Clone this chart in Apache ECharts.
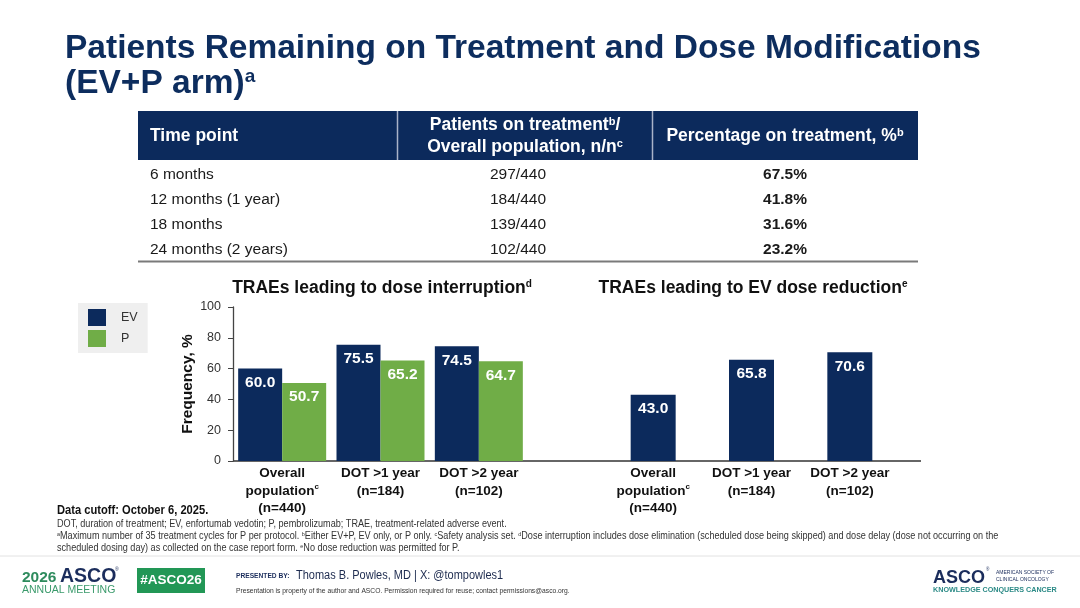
<!DOCTYPE html>
<html>
<head>
<meta charset="utf-8">
<title>Patients Remaining on Treatment and Dose Modifications</title>
<script src="https://cdn.jsdelivr.net/npm/echarts@6/dist/echarts.min.js"></script>
<style>
  html, body { margin: 0; padding: 0; background: #fff; }
  #main { width: 1080px; height: 608px; }
</style>
</head>
<body>
<div id="main"></div>
<script>
// table: patients remaining on treatment
var timePoints = ['6 months', '12 months (1 year)', '18 months', '24 months (2 years)'];
var onTreatment = [297, 184, 139, 102];
var overallPop = [440, 440, 440, 440];
var pctOnTreatment = [67.5, 41.8, 31.6, 23.2];

// bar charts
var doseCats = ['Overall\npopulation', 'DOT >1 year', 'DOT >2 year'];
var catSup = ['c', '', ''];
var catN = ['(n=440)', '(n=184)', '(n=102)'];
var interruptEV = [60.0, 75.5, 74.5];
var interruptP = [50.7, 65.2, 64.7];
var reductionEV = [43.0, 65.8, 70.6];
var yMin = 0, yMax = 100, yStep = 20;

var NAVY = '#0c2a5c';
var GREEN = '#70ad47';
var FONT = '"Liberation Sans", Arial, Helvetica, sans-serif';

var chart = echarts.init(document.getElementById('main'));

// small helper for graphic texts, {s|x} = superscript
function txt(x, y, str, size, opt) {
  opt = opt || {};
  var color = opt.color || '#222';
  var weight = opt.bold ? 'bold' : 'normal';
  return {
    type: 'text',
    x: x,
    y: y,
    scaleX: opt.scaleX || 1,
    silent: true,
    style: {
      text: str,
      fontFamily: FONT,
      fontSize: size,
      fontWeight: weight,
      fill: color,
      align: opt.align || 'left',
      verticalAlign: 'middle',
      rich: {
        s: {
          fontFamily: FONT,
          fontSize: opt.supSize || Math.round(size * 0.6),
          fontWeight: weight,
          fill: color,
          verticalAlign: 'top'
        }
      }
    }
  };
}

function hline(x1, x2, y, color, w) {
  return { type: 'line', silent: true, shape: { x1: x1, y1: y, x2: x2, y2: y }, style: { stroke: color, lineWidth: w } };
}

var g = [];

// title
g.push(txt(65, 49, 'Patients Remaining on Treatment and Dose Modifications', 33.5, { bold: true, color: '#0d2d5e' }));
g.push(txt(65, 84, '(EV+P arm){s|a}', 33.5, { bold: true, color: '#0d2d5e', supSize: 19 }));

// table header
g.push({ type: 'rect', silent: true, shape: { x: 138, y: 111, width: 780, height: 49 }, style: { fill: NAVY } });
g.push({ type: 'line', silent: true, shape: { x1: 397.5, y1: 111, x2: 397.5, y2: 160 }, style: { stroke: '#a9b3c8', lineWidth: 1.5 } });
g.push({ type: 'line', silent: true, shape: { x1: 652.5, y1: 111, x2: 652.5, y2: 160 }, style: { stroke: '#a9b3c8', lineWidth: 1.5 } });
g.push(txt(150, 136, 'Time point', 17.5, { bold: true, color: '#fff' }));
g.push(txt(525, 125, 'Patients on treatment{s|b}/', 17.5, { bold: true, color: '#fff', align: 'center', supSize: 11 }));
g.push(txt(525, 147, 'Overall population, n/n{s|c}', 17.5, { bold: true, color: '#fff', align: 'center', supSize: 11 }));
g.push(txt(785, 136, 'Percentage on treatment, %{s|b}', 17.5, { bold: true, color: '#fff', align: 'center', supSize: 11 }));

// table rows
for (var i = 0; i < timePoints.length; i++) {
  var ry = 174.5 + 25 * i;
  g.push(txt(150, ry, timePoints[i], 15.5, { color: '#1a1a1a' }));
  g.push(txt(518, ry, onTreatment[i] + '/' + overallPop[i], 15.5, { color: '#1a1a1a', align: 'center' }));
  g.push(txt(785, ry, pctOnTreatment[i].toFixed(1) + '%', 15.5, { color: '#1a1a1a', align: 'center', bold: true }));
}
g.push(hline(138, 918, 261.5, '#7a7a7a', 2));

// chart titles
g.push(txt(382, 288, 'TRAEs leading to dose interruption{s|d}', 17.5, { bold: true, color: '#111', align: 'center', supSize: 10 }));
g.push(txt(753, 288, 'TRAEs leading to EV dose reduction{s|e}', 17.5, { bold: true, color: '#111', align: 'center', supSize: 10 }));

// shared baseline under both charts
g.push(hline(233, 921, 461, '#333', 1.3));

// footnotes
g.push(txt(57, 511, 'Data cutoff: October 6, 2025.', 12, { bold: true, color: '#111', scaleX: 0.93 }));
g.push(txt(57, 524, 'DOT, duration of treatment; EV, enfortumab vedotin; P, pembrolizumab; TRAE, treatment-related adverse event.', 10, { color: '#333', scaleX: 0.91, supSize: 6 }));
g.push(txt(57, 536, '{s|a}Maximum number of 35 treatment cycles for P per protocol. {s|b}Either EV+P, EV only, or P only. {s|c}Safety analysis set. {s|d}Dose interruption includes dose elimination (scheduled dose being skipped) and dose delay (dose not occurring on the', 10, { color: '#333', scaleX: 0.91, supSize: 6 }));
g.push(txt(57, 548, 'scheduled dosing day) as collected on the case report form. {s|e}No dose reduction was permitted for P.', 10, { color: '#333', scaleX: 0.91, supSize: 6 }));

// footer
g.push(hline(0, 1080, 556, '#e2e2e2', 1));
g.push(txt(22, 578, '2026', 15.5, { bold: true, color: '#2e8b5d' }));
g.push(txt(60, 577, 'ASCO', 19.5, { bold: true, color: '#1b2d5c' }));
g.push(txt(115, 570, '®', 5, { color: '#1b2d5c' }));
g.push(txt(22, 590, 'ANNUAL MEETING', 10.5, { color: '#3a9a6b' }));
g.push({ type: 'rect', silent: true, shape: { x: 137, y: 568, width: 68, height: 25 }, style: { fill: '#229756' } });
g.push(txt(171, 580.5, '#ASCO26', 13.5, { bold: true, color: '#fff', align: 'center' }));
g.push(txt(236, 576, 'PRESENTED BY:', 7, { bold: true, color: '#1b2d5c', scaleX: 0.95 }));
g.push(txt(296, 576, 'Thomas B. Powles, MD | X: @tompowles1', 12.5, { color: '#1d2b4f', scaleX: 0.88 }));
g.push(txt(236, 591, 'Presentation is property of the author and ASCO. Permission required for reuse; contact permissions@asco.org.', 7.5, { color: '#333', scaleX: 0.895 }));
g.push(txt(933, 578, 'ASCO', 18, { bold: true, color: '#1b2d5c' }));
g.push(txt(986, 570, '®', 4.5, { color: '#1b2d5c' }));
g.push(txt(996, 573, 'AMERICAN SOCIETY OF', 5, { color: '#1b2d5c' }));
g.push(txt(996, 579.5, 'CLINICAL ONCOLOGY', 5, { color: '#1b2d5c' }));
g.push(txt(933, 590, 'KNOWLEDGE CONQUERS CANCER', 7.2, { bold: true, color: '#2b8a86' }));

function catLabel(v, i) {
  return v + (catSup[i] ? '{s|' + catSup[i] + '}' : '') + '\n' + catN[i];
}

var xLabel = {
  interval: 0,
  margin: 4,
  fontFamily: FONT,
  fontSize: 13.5,
  fontWeight: 'bold',
  color: '#111',
  lineHeight: 17.5,
  formatter: catLabel,
  rich: { s: { fontFamily: FONT, fontSize: 8, fontWeight: 'bold', color: '#111', verticalAlign: 'top', lineHeight: 17.5 } }
};

var barLabel = {
  show: true,
  position: 'insideTop',
  distance: 6,
  color: '#fff',
  fontFamily: FONT,
  fontSize: 15.5,
  fontWeight: 'bold',
  formatter: function (p) { return p.value.toFixed(1); }
};

chart.setOption({
  backgroundColor: '#fff',
  animation: false,
  textStyle: { fontFamily: FONT },
  legend: {
    data: ['EV', 'P'],
    orient: 'vertical',
    left: 78,
    top: 303,
    padding: [6, 10, 6, 10],
    backgroundColor: '#efefef',
    itemWidth: 18,
    itemHeight: 17,
    itemGap: 4,
    icon: 'rect',
    selectedMode: false,
    textStyle: { fontFamily: FONT, fontSize: 12.5, color: '#333', padding: [0, 0, 0, 10] }
  },
  grid: [
    { left: 233, top: 307, width: 295, height: 154, outerBoundsMode: 'none' },
    { left: 604, top: 307, width: 295, height: 154, outerBoundsMode: 'none' }
  ],
  xAxis: [
    { type: 'category', gridIndex: 0, data: doseCats, axisLine: { show: false }, axisTick: { show: false }, axisLabel: xLabel },
    { type: 'category', gridIndex: 1, data: doseCats, axisLine: { show: false }, axisTick: { show: false }, axisLabel: xLabel }
  ],
  yAxis: [
    {
      type: 'value', gridIndex: 0, min: yMin, max: yMax, interval: yStep,
      name: 'Frequency, %', nameLocation: 'middle', nameGap: 37,
      nameTextStyle: { fontFamily: FONT, fontSize: 15.5, fontWeight: 'bold', color: '#111' },
      axisLine: { show: true, lineStyle: { color: '#444', width: 1.3 } },
      axisTick: { show: true, length: 5, lineStyle: { color: '#444' } },
      axisLabel: { margin: 12, fontFamily: FONT, fontSize: 12.5, color: '#333' },
      splitLine: { show: false }
    },
    { type: 'value', gridIndex: 1, min: yMin, max: yMax, interval: yStep, show: false, splitLine: { show: false } }
  ],
  series: [
    { name: 'EV', type: 'bar', xAxisIndex: 0, yAxisIndex: 0, data: interruptEV, barWidth: 44, barGap: '0%', itemStyle: { color: NAVY }, label: barLabel },
    { name: 'P', type: 'bar', xAxisIndex: 0, yAxisIndex: 0, data: interruptP, barWidth: 44, barGap: '0%', itemStyle: { color: GREEN }, label: barLabel },
    { name: 'EV', type: 'bar', xAxisIndex: 1, yAxisIndex: 1, data: reductionEV, barWidth: 45, itemStyle: { color: NAVY }, label: barLabel }
  ],
  graphic: g
});
</script>
</body>
</html>
